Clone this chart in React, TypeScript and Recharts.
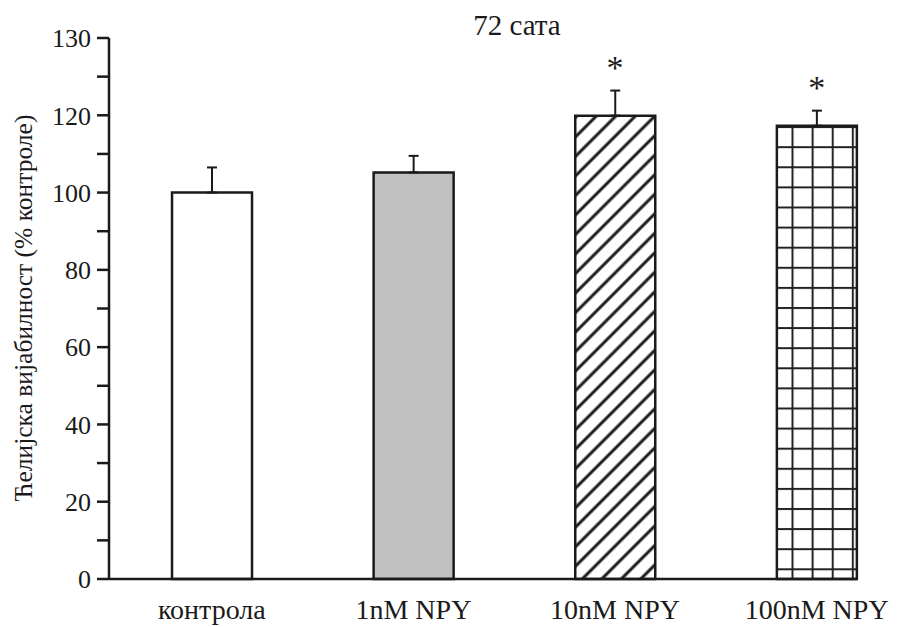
import React from 'react';
import { ComposedChart, Bar, Cell, ErrorBar, Scatter, XAxis, YAxis } from 'recharts';

const categories = ['контрола', '1nM NPY', '10nM NPY', '100nM NPY'];
const means = [100, 105.2, 119.9, 117.3];
const errors = [6.5, 4.3, 6.5, 3.9];
const significant = [false, false, true, true];

const yTicks = [0, 10, 20, 30, 40, 50, 60, 70, 80, 90, 100, 110, 120, 130, 140];
const yTickLabels = ['0', '', '20', '', '40', '', '60', '', '80', '', '100', '', '120', '', '130'];

const title = '72 сата';
const yLabel = 'Ћелијска вијабилност (% контроле)';

const fills = ['#ffffff', '#c0c0c0', 'url(#hatch)', 'url(#grid)'];
const ink = '#1a1a1a';
const font = '"Liberation Serif", "Times New Roman", serif';

const data = categories.map((name, i) => ({
  x: i,
  name,
  mean: means[i],
  err: [0, errors[i]],
}));

const stars = categories
  .map((_, i) => ({ x: i, top: means[i] + errors[i] }))
  .filter((_, i) => significant[i]);

const Star = (props: any) => {
  const { cx, cy } = props;
  if (cx == null || cy == null) return null;
  return (
    <text x={cx} y={cy - 12} textAnchor="middle" fontSize={34} fontFamily={font} fill={ink}>
      *
    </text>
  );
};

const YTitle = () => (
  <text
    x={23}
    y={308}
    transform="rotate(-90, 23, 308)"
    textAnchor="middle"
    dominantBaseline="central"
    fontSize={25.5}
    fontFamily={font}
    fill={ink}
  >
    {yLabel}
  </text>
);

export default function App() {
  return (
    <div style={{ position: 'absolute', left: 0, top: 0, width: 903, height: 627, background: '#fff' }}>
      <ComposedChart
        width={903}
        height={627}
        data={data}
        margin={{ top: 38, right: 46, bottom: 0, left: 0 }}
      >
        <defs>
          <pattern id="hatch" patternUnits="userSpaceOnUse" width={13.8} height={13.8} patternTransform="rotate(45)">
            <rect width={13.8} height={13.8} fill="#fff" />
            <line x1={6.9} y1={0} x2={6.9} y2={13.8} stroke={ink} strokeWidth={3} />
          </pattern>
          <pattern id="grid" patternUnits="userSpaceOnUse" x={791.5} y={206.5} width={20.1} height={20.1}>
            <rect width={20.1} height={20.1} fill="#fff" />
            <line x1={1} y1={0} x2={1} y2={20.1} stroke="#222" strokeWidth={2} />
            <line x1={0} y1={1} x2={20.1} y2={1} stroke="#222" strokeWidth={2} />
          </pattern>
        </defs>
        <text x={517} y={35} textAnchor="middle" fontSize={29} fontFamily={font} fill={ink}>
          {title}
        </text>
        <YTitle />
        <XAxis
          dataKey="x"
          type="number"
          domain={[-0.51, 3.2]}
          ticks={[0, 1, 2, 3]}
          tickFormatter={(v: number) => categories[v]}
          tickLine={false}
          tickSize={10}
          tickMargin={10}
          height={48}
          axisLine={{ stroke: ink, strokeWidth: 2.5 }}
          tick={{ fill: ink, fontSize: 28, fontFamily: font }}
          interval={0}
        />
        <YAxis
          type="number"
          domain={[0, 140]}
          ticks={yTicks}
          interval={0}
          width={109}
          tickSize={12}
          tickMargin={6}
          tickFormatter={(v: number) => yTickLabels[yTicks.indexOf(v)]}
          axisLine={{ stroke: ink, strokeWidth: 2.5 }}
          tickLine={{ stroke: ink, strokeWidth: 2.5 }}
          tick={{ fill: ink, fontSize: 26, fontFamily: font }}
        />
        <Bar dataKey="mean" barSize={80} stroke={ink} strokeWidth={2.5} isAnimationActive={false}>
          {data.map((d, i) => (
            <Cell key={d.name} fill={fills[i]} />
          ))}
          <ErrorBar dataKey="err" width={5} stroke={ink} strokeWidth={2} direction="y" />
        </Bar>
        <Scatter data={stars} dataKey="top" shape={<Star />} isAnimationActive={false} />
      </ComposedChart>
    </div>
  );
}
